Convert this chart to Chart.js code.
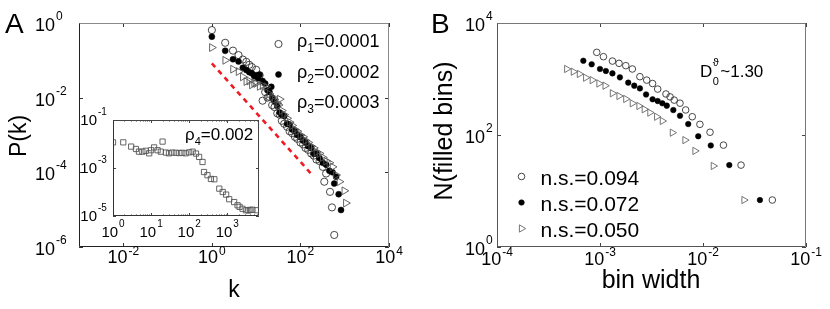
<!DOCTYPE html>
<html>
<head>
<meta charset="utf-8">
<script src="https://cdn.jsdelivr.net/npm/chart.js@4.4.1/dist/chart.umd.min.js"></script>
<style>
  html, body { margin: 0; padding: 0; background: #fff; }
  #wrap { position: relative; width: 830px; height: 309px; overflow: hidden; }
  #wrap canvas { position: absolute; left: 0; top: 0; }
</style>
</head>
<body>
<div id="wrap">
  <canvas id="chartA" width="830" height="309"></canvas>
  <canvas id="chartB" width="830" height="309"></canvas>
  <canvas id="chartInset" width="830" height="309"></canvas>
</div>
<script>
// ---- panel A: degree distributions ----
const kRho1 = [1, 2, 3, 4, 5, 6, 7, 8, 10, 12, 14, 16, 18, 20, 23, 26, 30, 34, 38, 43, 50, 57, 65, 75, 85, 100, 115, 130, 150, 175, 200, 230, 270, 320, 346, 380, 466, 515, 580];
const pRho1 = [0.646, 0.295, 0.182, 0.138, 0.105, 0.091, 0.076, 0.066, 0.056, 0.040, 0.0083, 0.0141, 0.0100, 0.0105, 0.0063, 0.0056, 0.0038, 0.0035, 0.0024, 0.0020, 0.00166, 0.00126, 0.00112, 8.9e-4, 7.9e-4, 6.3e-4, 5.6e-4, 4.5e-4, 4.0e-4, 3.2e-4, 2.8e-4, 2.2e-4, 2.0e-4, 1.4e-4, 5.6e-5, 9.3e-5, 3.0e-5, 1.15e-5, 2.1e-6];

const kRho2 = [1, 2, 3, 4, 5, 6, 7, 8, 9, 10, 11, 12, 14, 16, 18, 20, 22, 23, 26, 30, 34, 38, 43, 50, 57, 65, 75, 85, 100, 115, 130, 150, 175, 200, 230, 270, 320, 380, 450, 530, 580, 640, 730, 825];
const pRho2 = [0.43, 0.18, 0.107, 0.093, 0.063, 0.055, 0.048, 0.045, 0.038, 0.040, 0.033, 0.041, 0.028, 0.024, 0.0158, 0.0141, 0.0195, 0.0100, 0.0079, 0.0060, 0.0040, 0.0035, 0.0032, 0.0020, 0.0019, 0.0014, 0.00126, 0.0010, 8.9e-4, 7.1e-4, 6.3e-4, 5.0e-4, 4.5e-4, 3.2e-4, 3.2e-4, 2.4e-4, 1.8e-4, 1.6e-4, 1.1e-4, 1.0e-4, 5.0e-5, 7.6e-5, 2.6e-5, 9.8e-6];

const kRho3 = [1, 2, 3, 4, 5, 6, 7, 8, 9, 10, 12, 14, 17, 20, 23, 26, 30, 34, 38, 43, 50, 57, 65, 75, 85, 100, 115, 130, 150, 175, 200, 230, 270, 320, 380, 450, 530, 635, 760, 980, 1060];
const pRho3 = [0.22, 0.10, 0.058, 0.050, 0.036, 0.027, 0.028, 0.022, 0.025, 0.024, 0.020, 0.021, 0.0195, 0.0126, 0.0105, 0.0089, 0.0071, 0.0091, 0.0045, 0.0035, 0.0028, 0.0022, 0.0018, 0.0014, 0.00126, 0.0010, 8.9e-4, 7.1e-4, 6.3e-4, 5.0e-4, 4.5e-4, 3.5e-4, 3.2e-4, 2.5e-4, 2.0e-4, 1.8e-4, 1.4e-4, 8.5e-5, 5.6e-5, 3.2e-5, 1.5e-5];

// guide line (dashed red)
const kGuide = [1, 185];
const pGuide = [0.083, 8.5e-5];

const rhoNames = ['1', '2', '3'];
const rhoValues = ['0.0001', '0.0002', '0.0003'];

// ---- inset: rho4 ----
const kRho4 = [1, 1.86, 3.0, 4.0, 4.8, 5.9, 7.2, 8.9, 10, 12, 14.8, 18, 20, 24.5, 29.5, 36, 44.7, 55, 66, 81, 100, 123, 151, 182, 224, 245, 302, 372, 457, 617, 759, 933, 1122, 1514, 1862, 2100, 2512, 3090, 3600, 4000, 4571, 5888];
const pRho4 = [1.17e-2, 1.17e-2, 7.8e-3, 6.2e-3, 4.8e-3, 4.8e-3, 5.2e-3, 4.1e-3, 5.5e-3, 7.2e-3, 5.5e-3, 4.8e-3, 1.26e-2, 4.4e-3, 4.1e-3, 4.4e-3, 4.3e-3, 4.2e-3, 4.3e-3, 4.1e-3, 4.5e-3, 4.8e-3, 4.0e-3, 2.9e-3, 1.78e-3, 6.8e-4, 5.0e-4, 3.5e-4, 3.4e-4, 1.38e-4, 1.0e-4, 7.8e-5, 5.0e-5, 3.8e-5, 2.8e-5, 2.4e-5, 2.0e-5, 1.74e-5, 1.7e-5, 1.8e-5, 1.82e-5, 1.74e-5];

// ---- panel B: box counting ----
const wNs094 = [9.3e-4, 1.08e-3, 1.32e-3, 1.53e-3, 1.78e-3, 2.06e-3, 2.44e-3, 2.84e-3, 3.24e-3, 3.63e-3, 4.37e-3, 4.79e-3, 5.25e-3, 5.98e-3, 6.79e-3, 7.87e-3, 9.33e-3, 1.17e-2, 1.58e-2, 2.34e-2, 4.71e-2];
const nNs094 = [2990, 2500, 2090, 1905, 1730, 1510, 1100, 955, 830, 660, 540, 480, 420, 370, 280, 212, 155, 112, 66, 29, 6.9];
const wNs072 = [6.89e-4, 8.30e-4, 1.0e-3, 1.14e-3, 1.32e-3, 1.56e-3, 1.88e-3, 2.15e-3, 2.44e-3, 2.80e-3, 3.24e-3, 3.63e-3, 4.03e-3, 4.45e-3, 5.15e-3, 5.98e-3, 7.19e-3, 8.99e-3, 1.19e-2, 1.80e-2, 3.57e-2];
const nNs072 = [2120, 1830, 1510, 1390, 1260, 1070, 860, 760, 680, 530, 434, 405, 368, 334, 279, 221, 157, 95, 65, 29, 6.9];
const wNs050 = [4.75e-4, 5.51e-4, 6.31e-4, 7.26e-4, 8.41e-4, 9.77e-4, 1.12e-3, 1.32e-3, 1.53e-3, 1.78e-3, 2.06e-3, 2.39e-3, 2.69e-3, 3.05e-3, 3.55e-3, 4.03e-3, 5.04e-3, 6.68e-3, 8.36e-3, 1.26e-2, 2.50e-2];
const nNs050 = [1510, 1350, 1230, 1055, 955, 832, 759, 556, 497, 440, 368, 330, 288, 251, 212, 178, 110, 81, 52, 28, 6.9];
const nsLabels = ['n.s.=0.094', 'n.s.=0.072', 'n.s.=0.050'];

// ---- axes ticks (values and exponents shown) ----
const aXTicks = [1e-2, 1, 1e2, 1e4];
const aXExp = ['-2', '0', '2', '4'];
const aYTicks = [1, 1e-2, 1e-4, 1e-6];
const aYExp = ['0', '-2', '-4', '-6'];
const inXTicks = [1, 10, 100, 1000];
const inXExp = ['0', '1', '2', '3'];
const inYTicks = [1e-1, 1e-3, 1e-5];
const inYExp = ['-1', '-3', '-5'];
const bXTicks = [1e-4, 1e-3, 1e-2, 1e-1];
const bXExp = ['-4', '-3', '-2', '-1'];
const bYTicks = [1, 1e2, 1e4];
const bYExp = ['0', '2', '4'];

const FONT = '"Liberation Sans", Arial, Helvetica, sans-serif';

const pts = (xs, ys) => xs.map((x, i) => ({ x, y: ys[i] }));

const openCircle = { pointStyle: 'circle', pointRadius: 3.6, borderColor: '#333', backgroundColor: 'rgba(255,255,255,0)', borderWidth: 0.9 };
const dotStyle = { pointStyle: 'circle', pointRadius: 3, borderColor: '#000', backgroundColor: '#000', borderWidth: 0.5 };
const triStyle = { pointStyle: 'triangle', pointRotation: 90, pointRadius: 4.5, borderColor: '#555', backgroundColor: 'rgba(255,255,255,0)', borderWidth: 0.9 };

function drawMarker(ctx, s, x, y) {
  ctx.save();
  ctx.lineWidth = s.borderWidth;
  ctx.strokeStyle = s.borderColor;
  ctx.fillStyle = s.backgroundColor;
  ctx.beginPath();
  const r = s.pointRadius;
  if (s.pointStyle === 'triangle') {
    ctx.moveTo(x + r, y);
    ctx.lineTo(x - r / 2, y - r * 0.866);
    ctx.lineTo(x - r / 2, y + r * 0.866);
    ctx.closePath();
  } else {
    ctx.arc(x, y, r, 0, Math.PI * 2);
  }
  ctx.fill();
  ctx.stroke();
  ctx.restore();
}

// "10" with a raised exponent
function powLabel(ctx, exp, x, base, o) {
  ctx.font = o.size + 'px ' + FONT;
  const w10 = ctx.measureText('10').width;
  ctx.font = o.sup + 'px ' + FONT;
  const wExp = ctx.measureText(exp).width;
  const left = o.align === 'center' ? x - (w10 + 1 + wExp) / 2 : x - w10;
  ctx.textAlign = 'left';
  ctx.textBaseline = 'alphabetic';
  ctx.font = o.size + 'px ' + FONT;
  ctx.fillText('10', left, base);
  ctx.font = o.sup + 'px ' + FONT;
  ctx.fillText(exp, left + w10 + 1, base - o.rise);
}

function subText(ctx, main, sub, rest, x, base, size, subSize) {
  ctx.textAlign = 'left';
  ctx.textBaseline = 'alphabetic';
  ctx.font = size + 'px ' + FONT;
  ctx.fillText(main, x, base);
  let cx = x + ctx.measureText(main).width;
  ctx.font = subSize + 'px ' + FONT;
  ctx.fillText(sub, cx, base + Math.round(size * 0.3));
  cx += ctx.measureText(sub).width;
  ctx.font = size + 'px ' + FONT;
  ctx.fillText(rest, cx, base);
}

function framePlugin(spec) {
  return {
    id: 'frame',
    beforeDatasetsDraw(chart) {
      if (!spec.white) return;
      const a = chart.chartArea;
      chart.ctx.save();
      chart.ctx.fillStyle = '#fff';
      chart.ctx.fillRect(a.left, a.top, a.right - a.left, a.bottom - a.top);
      chart.ctx.restore();
    },
    afterDraw(chart) {
      const ctx = chart.ctx;
      const a = chart.chartArea;
      const sx = chart.scales.x;
      const sy = chart.scales.y;
      const L = spec.tickLen;
      ctx.save();
      ctx.lineWidth = 1;
      ctx.strokeStyle = spec.tickColor;
      ctx.beginPath();
      spec.xTicks.forEach(v => {
        const px = Math.round(sx.getPixelForValue(v)) + 0.5;
        ctx.moveTo(px, a.bottom); ctx.lineTo(px, a.bottom - L);
        ctx.moveTo(px, a.top); ctx.lineTo(px, a.top + L);
      });
      spec.yTicks.forEach(v => {
        const py = Math.round(sy.getPixelForValue(v)) + 0.5;
        ctx.moveTo(a.left, py); ctx.lineTo(a.left + L, py);
        ctx.moveTo(a.right, py); ctx.lineTo(a.right - L, py);
      });
      (spec.xMinor || []).forEach(v => {
        const px = Math.round(sx.getPixelForValue(v)) + 0.5;
        ctx.moveTo(px, a.bottom); ctx.lineTo(px, a.bottom - L / 2);
        ctx.moveTo(px, a.top); ctx.lineTo(px, a.top + L / 2);
      });
      ctx.stroke();

      const l = a.left + 0.5, r = a.right - 0.5, t = a.top + 0.5, b = a.bottom - 0.5;
      ctx.strokeStyle = spec.edgeDark;
      ctx.beginPath();
      ctx.moveTo(l, t); ctx.lineTo(l, b); ctx.lineTo(r, b);
      ctx.stroke();
      ctx.strokeStyle = spec.edgeLight;
      ctx.beginPath();
      ctx.moveTo(l, t); ctx.lineTo(r, t); ctx.lineTo(r, b);
      ctx.stroke();

      ctx.fillStyle = '#000';
      spec.xTicks.forEach((v, i) => {
        powLabel(ctx, spec.xExp[i], sx.getPixelForValue(v), a.bottom + spec.xBase,
          { size: spec.font, sup: spec.supFont, rise: spec.xRise, align: 'center' });
      });
      spec.yTicks.forEach((v, i) => {
        powLabel(ctx, spec.yExp[i], spec.yLabelX, sy.getPixelForValue(v) + spec.yBase,
          { size: spec.font, sup: spec.supFont, rise: spec.yRise, align: 'right' });
      });
      if (spec.extra) spec.extra(ctx, chart);
      ctx.restore();
    }
  };
}

function baseOptions(pad, xr, yr) {
  return {
    responsive: false,
    animation: false,
    devicePixelRatio: 1,
    layout: { padding: pad },
    plugins: { legend: { display: false }, tooltip: { enabled: false } },
    scales: {
      x: { type: 'logarithmic', min: xr[0], max: xr[1], display: false },
      y: { type: 'logarithmic', min: yr[0], max: yr[1], display: false }
    }
  };
}

// ---- chart A ----
new Chart(document.getElementById('chartA'), {
  type: 'scatter',
  data: {
    datasets: [
      Object.assign({ data: pts(kRho1, pRho1), order: 4 }, openCircle),
      Object.assign({ data: pts(kRho2, pRho2), order: 3 }, dotStyle),
      Object.assign({ data: pts(kRho3, pRho3), order: 2 }, triStyle),
      { data: pts(kGuide, pGuide), showLine: true, pointRadius: 0, borderColor: '#ee1c24', borderWidth: 2.6, borderDash: [5, 4.5], order: 1 }
    ]
  },
  options: baseOptions({ left: 79, top: 23, right: 441, bottom: 62 }, [1e-3, 1e4], [1e-6, 1]),
  plugins: [framePlugin({
    tickLen: 4, tickColor: '#333', edgeDark: '#222', edgeLight: '#8a8a8a',
    xTicks: aXTicks, xExp: aXExp, yTicks: aYTicks, yExp: aYExp,
    font: 18, supFont: 12, xBase: 16, xRise: 8, yBase: 8, yRise: 11, yLabelX: 55,
    extra(ctx) {
      ctx.fillStyle = '#000';
      ctx.font = '28px ' + FONT;
      ctx.textAlign = 'left';
      ctx.fillText('A', 5, 33);
      ctx.font = '23px ' + FONT;
      ctx.textAlign = 'center';
      ctx.fillText('k', 234, 297);
      ctx.save();
      ctx.translate(26, 136);
      ctx.rotate(-Math.PI / 2);
      ctx.fillText('P(k)', 0, 0);
      ctx.restore();
      const styles = [openCircle, dotStyle, triStyle];
      const rows = [47, 77.5, 108];
      rows.forEach((yb, i) => {
        drawMarker(ctx, styles[i], 278.5, yb - 3);
        ctx.fillStyle = '#000';
        subText(ctx, 'ρ', rhoNames[i], '=' + rhoValues[i], 297, yb, 18, 12);
      });
    }
  })]
});

// ---- chart B ----
const bOpen = Object.assign({}, openCircle, { pointRadius: 3.3 });
const bDot = Object.assign({}, dotStyle, { pointRadius: 2.8 });
const bTri = Object.assign({}, triStyle, { pointRadius: 4.2, borderColor: '#666' });
new Chart(document.getElementById('chartB'), {
  type: 'scatter',
  data: {
    datasets: [
      Object.assign({ data: pts(wNs094, nNs094) }, bOpen),
      Object.assign({ data: pts(wNs072, nNs072) }, bDot),
      Object.assign({ data: pts(wNs050, nNs050) }, bTri)
    ]
  },
  options: baseOptions({ left: 497, top: 23, right: 24, bottom: 62 }, [1e-4, 1e-1], [1, 1e4]),
  plugins: [framePlugin({
    tickLen: 4, tickColor: '#444', edgeDark: '#555', edgeLight: '#777',
    xTicks: bXTicks, xExp: bXExp, yTicks: bYTicks, yExp: bYExp,
    font: 18, supFont: 12, xBase: 18, xRise: 9, yBase: 8, yRise: 11, yLabelX: 485,
    extra(ctx) {
      ctx.fillStyle = '#000';
      ctx.font = '28px ' + FONT;
      ctx.textAlign = 'left';
      ctx.fillText('B', 431, 33);
      ctx.font = '25px ' + FONT;
      ctx.textAlign = 'center';
      ctx.fillText('bin width', 651, 288);
      ctx.save();
      ctx.translate(452, 131);
      ctx.rotate(-Math.PI / 2);
      ctx.fillText('N(filled bins)', 0, 0);
      ctx.restore();
      const styles = [bOpen, bDot, bTri];
      const rows = [185, 211, 237];
      rows.forEach((yb, i) => {
        drawMarker(ctx, styles[i], 521.5, yb - 8.5);
        ctx.fillStyle = '#000';
        ctx.font = '21px ' + FONT;
        ctx.textAlign = 'left';
        ctx.fillText(nsLabels[i], 540.5, yb);
      });
      // D_0^theta ~ 1.30
      ctx.font = '17px ' + FONT;
      ctx.fillText('D', 700, 77);
      const wD = ctx.measureText('D').width;
      ctx.font = '11px ' + FONT;
      ctx.fillText('0', 700 + wD + 0.5, 85);
      ctx.fillText('ϑ', 700 + wD + 0.5, 66);
      ctx.font = '17px ' + FONT;
      ctx.fillText('~1.30', 700 + wD + 8, 77);
    }
  })]
});

// ---- inset ----
const sqStyle = { pointStyle: 'rect', pointRadius: 3.7, borderColor: '#555', backgroundColor: 'rgba(255,255,255,0)', borderWidth: 0.9 };
const inMinor = [2, 3, 4, 5, 6, 7, 8, 9, 20, 30, 40, 50, 60, 70, 80, 90, 200, 300, 400, 500, 600, 700, 800, 900, 2000, 3000, 4000, 5000, 6000];
new Chart(document.getElementById('chartInset'), {
  type: 'scatter',
  data: { datasets: [Object.assign({ data: pts(kRho4, pRho4) }, sqStyle)] },
  options: baseOptions({ left: 113, top: 120, right: 571, bottom: 93 }, [1, 6800], [1e-5, 1e-1]),
  plugins: [framePlugin({
    white: true,
    tickLen: 3, tickColor: '#444', edgeDark: '#333', edgeLight: '#444',
    xTicks: inXTicks, xExp: inXExp, yTicks: inYTicks, yExp: inYExp, xMinor: inMinor,
    font: 15, supFont: 10, xBase: 21, xRise: 10, yBase: 5, yRise: 10, yLabelX: 97,
    extra(ctx) {
      ctx.fillStyle = '#000';
      subText(ctx, 'ρ', '4', '=0.002', 185, 140, 17, 11);
    }
  })]
});
</script>
</body>
</html>
